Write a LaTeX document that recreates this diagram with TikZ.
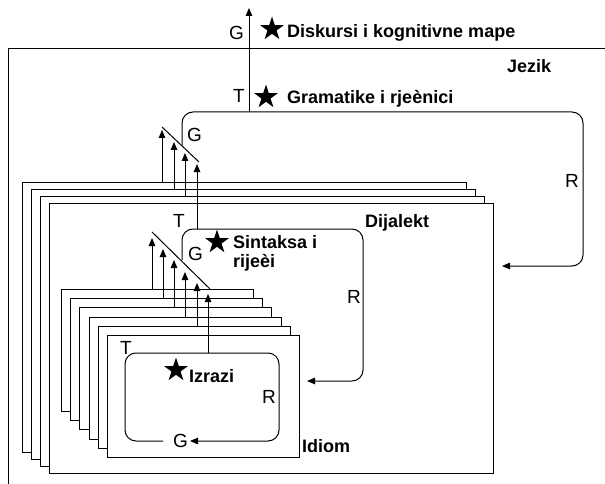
\documentclass[tikz,border=0pt]{standalone}
\usepackage{fontspec}
\setmainfont{Liberation Sans}
\usetikzlibrary{arrows.meta,shapes.geometric}
\tikzset{
  frame/.style    = {line width=1pt},
  sheet/.style    = {draw, fill=white, line width=1pt, anchor=north west, inner sep=0pt},
  loopline/.style = {line width=1pt, rounded corners=11pt},
  flow/.style     = {line width=1pt, -{Triangle[length=8pt,width=6.5pt]}},
  lbl/.style      = {font=\bfseries\fontsize{18}{19}\selectfont, inner sep=0pt, anchor=base west},
  ltr/.style      = {font=\fontsize{19}{21}\selectfont, inner sep=0pt, anchor=base west},
  starmark/.style = {star, star points=5, star point ratio=2.6, fill=black, inner sep=0pt, minimum size=25pt}
}

\begin{document}
\begin{tikzpicture}[x=1pt,y=-1pt]
\useasboundingbox (0,0) rectangle (605,484);

% jezik
\draw[frame] (8,484) |- (605,49);
\coordinate (jzS) at (182,145);
\coordinate (jzC) at (583,112);
\coordinate (jzE) at (502,266);
\coordinate (jzT) at (249,112);
\coordinate (top) at (249,8);
\draw[loopline,flow] (jzS) |- (jzC) |- (jzE);
\draw[flow] (jzT) -- (top);
\node[ltr] (gTop) at (229,40) {G};
\node[starmark] (s1) at (272,29) {};
\node[lbl] (disk) at (287,38) {Diskursi i kognitivne mape};
\node[lbl] (jez) at (507,73) {Jezik};
\node[ltr] (tJez) at (233,103) {T};
\node[starmark] (s2) at (266,97) {};
\node[lbl] (gram) at (287,104) {Gramatike i rjeènici};
\node[ltr] (gJez) at (187,142) {G};
\node[ltr] (rJez) at (565,187) {R};

% dijalekt
\foreach \i in {1,...,4}
  \node[sheet, minimum width=444pt, minimum height=270pt] (d\i) at ({22+9*(\i-1)},{182+7*(\i-1)}) {};
\foreach \i/\x/\t in {1/162/130,2/174/142,3/185/153} {
  \coordinate (gd\i) at (\x,\t);
  \draw[flow] (gd\i |- d\i.north) -- (gd\i);
}
\draw[frame] (162,127) -- (199,162);
\coordinate (syS) at (182,260);
\coordinate (syC) at (363,229);
\coordinate (syE) at (307,381);
\coordinate (gd4) at (197,164);
\draw[loopline,flow] (syS) |- (syC) |- (syE);
\draw[flow] (gd4 |- syC) -- (gd4);
\node[ltr] (tDij) at (173,227) {T};
\node[ltr] (gDij) at (188,260) {G};
\node[starmark] (s3) at (217,242) {};
\node[lbl, anchor=north west, align=left] (sint) at (233,235) {Sintaksa i\\rijeèi};
\node[lbl] (dij) at (365,227) {Dijalekt};
\node[ltr] (rDij) at (347,303) {R};

% idiom
\foreach \i in {1,...,6}
  \node[sheet, minimum width=192pt, minimum height=122pt] (i\i) at ({61+9.2*(\i-1)},{289+9.2*(\i-1)}) {};
\foreach \i/\x/\t in {1/152/238,2/163/249,3/174/260,4/185/272,5/197/283} {
  \coordinate (gi\i) at (\x,\t);
  \draw[flow] (gi\i |- i\i.north) -- (gi\i);
}
\draw[frame] (152,232) -- (210,289);
\coordinate (izS) at (163,441);
\coordinate (izL) at (125,353);
\coordinate (izR) at (279,441);
\coordinate (izE) at (190,441);
\coordinate (gi6) at (208,294);
\draw[loopline,flow] (izS) -| (izL) -| (izR) -- (izE);
\draw[flow] (gi6 |- izL) -- (gi6);
\node[ltr] (tIdi) at (120,354) {T};
\node[starmark] (s4) at (176,370) {};
\node[lbl] (izr) at (189,382) {Izrazi};
\node[ltr] (rIdi) at (262,403) {R};
\node[ltr] (gIdi) at (173,447) {G};
\node[lbl] (idi) at (302,452) {Idiom};
\end{tikzpicture}
\end{document}
